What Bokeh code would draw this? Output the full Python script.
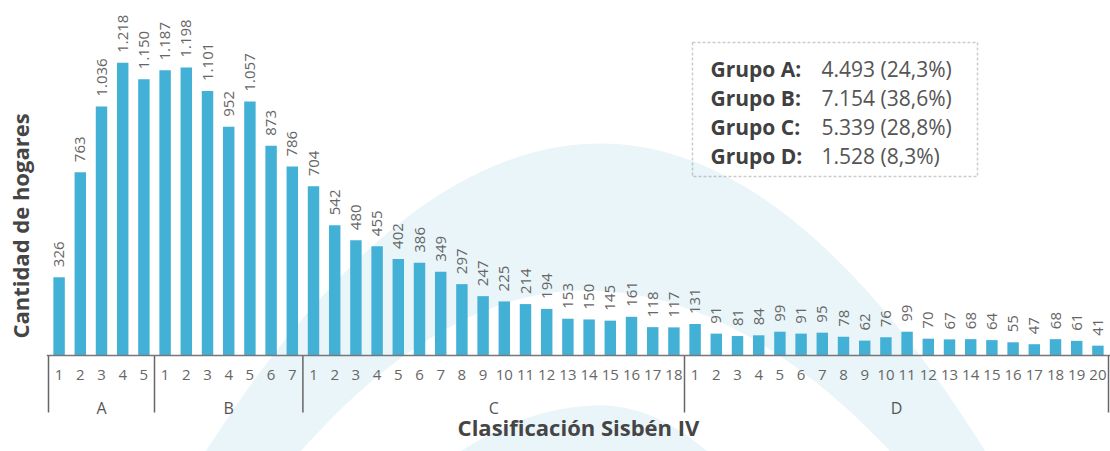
import math
import numpy as np
from bokeh.plotting import figure
from bokeh.models import (FactorRange, Range1d, ColumnDataSource, Label,
                          BoxAnnotation, FixedTicker)
from bokeh.core.properties import value
from bokeh.embed import file_html
from bokeh.resources import INLINE

# ---------------- data ----------------
groups = ["A", "B", "C", "D"]
values_a = [326, 763, 1036, 1218, 1150]
values_b = [1187, 1198, 1101, 952, 1057, 873, 786]
values_c = [704, 542, 480, 455, 402, 386, 349, 297, 247, 225, 214, 194,
            153, 150, 145, 161, 118, 117]
values_d = [131, 91, 81, 84, 99, 91, 95, 78, 62, 76, 99, 70, 67, 68, 64,
            55, 47, 68, 61, 41]
group_values = [values_a, values_b, values_c, values_d]

x_title = "Clasificación Sisbén IV"
y_title = "Cantidad de hogares"

# ---------------- layout constants ----------------
W, H = 1110, 451
X0, X1 = 48, 1108          # px of first / last category edge
BASE = 355                 # px of the zero line
PPU = 0.2403               # px per unit
PAD = 2                    # px of padding on each side of the categories
N = sum(len(v) for v in group_values)
CW = (X1 - X0) / N         # px per category
Y_MAX = BASE / PPU
Y_MIN = -(H - BASE) / PPU

def dx(sx):   # px -> synthetic x
    return (sx - X0) / CW

def dy(sy):   # px -> data y
    return (BASE - sy) / PPU

def fmt(v):
    return f"{v:,}".replace(",", ".")

factors, tops, labels = [], [], []
for g, vals in zip(groups, group_values):
    for i, v in enumerate(vals):
        factors.append((g, str(i + 1)))
        tops.append(v)
        labels.append(fmt(v))

src = ColumnDataSource(dict(x=factors, top=tops, label=labels))

xr = FactorRange(*factors, group_padding=0, factor_padding=0,
                 range_padding=PAD / CW, range_padding_units="absolute")
p = figure(width=W, height=H, output_backend="svg", toolbar_location=None,
           x_range=xr, y_range=Range1d(Y_MIN, Y_MAX),
           min_border_left=X0 - PAD, min_border_right=0,
           min_border_top=0, min_border_bottom=0)
p.outline_line_color = None
p.xgrid.grid_line_color = None
p.ygrid.grid_line_color = None

# ---------------- background decoration ----------------
bg = "#e9f5f9"
def arch(xl, xp, xr_, ypk, ybase, n=40):
    xs, ys = [], []
    for t in np.linspace(0, 1, n):
        xs.append(dx(xl + (xp - xl) * t))
        ys.append(dy(ypk + (ybase - ypk) * (1 - t) ** 2))
    for t in np.linspace(0, 1, n)[1:]:
        xs.append(dx(xp + (xr_ - xp) * t))
        ys.append(dy(ypk + (ybase - ypk) * t ** 2))
    return xs, ys

for (shape, col) in [((205, 600, 985, 143, 451), bg),
                     ((300, 585, 890, 290, 451), "white"),
                     ((460, 600, 707, 405, 451), bg)]:
    sx_, sy_ = arch(*shape)
    r = p.patch(sx_, sy_, fill_color=col, line_color=None)
    r.level = "underlay"

# ---------------- bars ----------------
p.vbar(x="x", top="top", width=0.54, source=src, fill_color="#43b0d6",
       line_color=None)
p.text(x="x", y="top", text="label", source=src, angle=math.pi / 2,
       text_align="left", text_baseline="middle", y_offset=-10,
       text_font=value("Open Sans"), text_font_size="15px",
       text_color="#666666")

# ---------------- group separators ----------------
bounds = [0]
for vals in group_values:
    bounds.append(bounds[-1] + len(vals))
sep_len = 57 / PPU
p.segment(x0=bounds, y0=[0] * len(bounds), x1=bounds,
          y1=[-sep_len] * len(bounds), line_color="#666666", line_width=1.5)

# ---------------- x axis ----------------
ax = p.xaxis[0]
ax.fixed_location = 0
ax.axis_line_color = "#777777"
ax.axis_line_width = 1.5
ax.major_tick_line_color = None
ax.major_tick_out = 0
ax.major_label_standoff = 14
ax.major_label_text_font = "Open Sans"
ax.major_label_text_font_size = "15px"
ax.major_label_text_color = "#666666"
ax.group_text_font = "Open Sans"
ax.group_text_font_size = "16px"
ax.group_text_font_style = "normal"
ax.group_text_color = "#555555"
ax.separator_line_color = None
ax.axis_label = x_title
ax.axis_label_text_font = "Open Sans"
ax.axis_label_text_font_style = "bold"
ax.axis_label_text_font_size = "22px"
ax.axis_label_text_color = "#454545"
ax.axis_label_standoff = -10

# ---------------- y axis (title only) ----------------
ya = p.yaxis[0]
ya.ticker = FixedTicker(ticks=[])
ya.axis_line_color = None
ya.major_tick_line_color = None
ya.minor_tick_line_color = None
ya.major_label_text_font_size = "0px"
ya.axis_label = y_title
ya.axis_label_text_font = "Open Sans"
ya.axis_label_text_font_style = "bold"
ya.axis_label_text_font_size = "22px"
ya.axis_label_text_color = "#454545"
ya.axis_label_standoff = 12

# ---------------- summary box ----------------
total = sum(sum(v) for v in group_values)
p.add_layout(BoxAnnotation(left=dx(692), right=dx(977), top=dy(42), bottom=dy(176),
                           fill_color=None, line_color="#555555", line_width=1.5,
                           line_dash="3 2"))
row_y = [68, 97, 126, 155]
for g, vals, ry in zip(groups, group_values, row_y):
    s = sum(vals)
    pct = f"{100 * s / total:.1f}".replace(".", ",")
    p.add_layout(Label(x=dx(710), y=dy(ry), text=f"Grupo {g}:",
                       text_align="left", text_baseline="middle",
                       text_font="Open Sans", text_font_style="bold",
                       text_font_size="21px", text_color="#404040"))
    p.add_layout(Label(x=dx(821), y=dy(ry), text=f"{fmt(s)} ({pct}%)",
                       text_align="left", text_baseline="middle",
                       text_font="Open Sans", text_font_size="21px",
                       text_color="#555555"))

open("out.html", "w").write(file_html(p, INLINE))
